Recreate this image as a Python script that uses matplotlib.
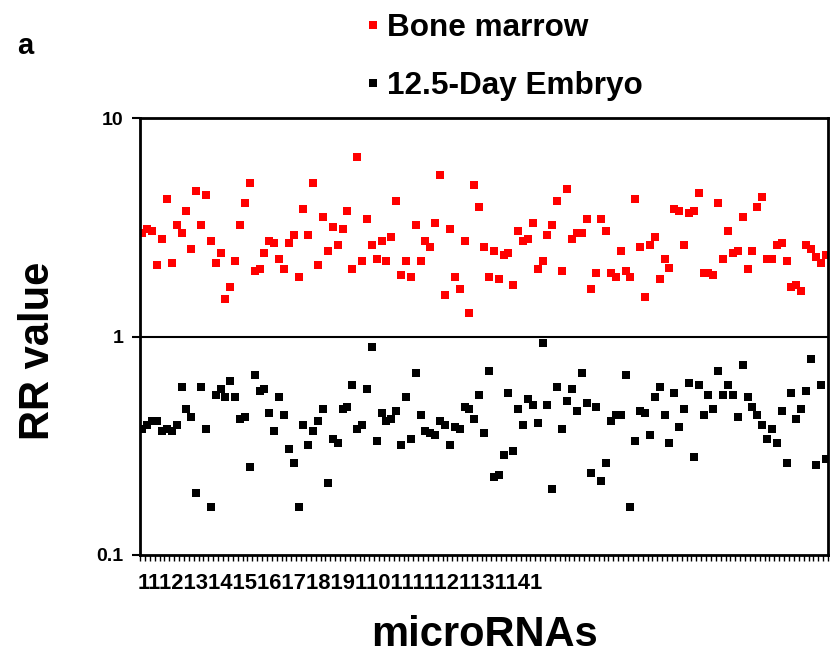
import numpy as np
import matplotlib.pyplot as plt
from matplotlib.ticker import FixedLocator, NullLocator

# RR values for each microRNA (141 probes)
bone_marrow = [
	2.97, 3.10, 3.03, 2.12, 2.79, 4.25, 2.17, 3.23, 2.97, 3.74,
	2.51, 4.62, 3.23, 4.43, 2.73, 2.17, 2.40, 1.48, 1.68, 2.21,
	3.23, 4.07, 5.03, 1.99, 2.03, 2.40, 2.73, 2.67, 2.26, 2.03,
	2.67, 2.91, 1.87, 3.83, 2.91, 5.03, 2.12, 3.52, 2.46, 3.16,
	2.62, 3.10, 3.74, 2.03, 6.62, 2.21, 3.44, 2.62, 2.26, 2.73,
	2.21, 2.85, 4.16, 1.91, 2.21, 1.87, 3.23, 2.21, 2.73, 2.56,
	3.30, 5.47, 1.55, 3.10, 1.87, 1.65, 2.73, 1.28, 4.93, 3.91,
	2.56, 1.87, 2.46, 1.83, 2.36, 2.40, 1.72, 3.03, 2.73, 2.79,
	3.30, 2.03, 2.21, 2.91, 3.23, 4.16, 1.99, 4.72, 2.79, 2.97,
	2.97, 3.44, 1.65, 1.95, 3.44, 3.03, 1.95, 1.87, 2.46, 1.99,
	1.87, 4.25, 2.56, 1.51, 2.62, 2.85, 1.83, 2.26, 2.07, 3.83,
	3.74, 2.62, 3.66, 3.74, 4.53, 1.95, 1.95, 1.91, 4.07, 2.26,
	3.03, 2.40, 2.46, 3.52, 2.03, 2.46, 3.91, 4.34, 2.26, 2.26,
	2.62, 2.67, 2.21, 1.68, 1.72, 1.61, 2.62, 2.51, 2.31, 2.17,
	2.36,
]

embryo = [
	0.376, 0.393, 0.410, 0.410, 0.369, 0.376, 0.369, 0.393, 0.586, 0.465,
	0.427, 0.192, 0.586, 0.376, 0.166, 0.539, 0.574, 0.527, 0.624, 0.527,
	0.418, 0.427, 0.252, 0.665, 0.562, 0.574, 0.446, 0.369, 0.527, 0.436,
	0.305, 0.263, 0.166, 0.393, 0.318, 0.369, 0.410, 0.465, 0.213, 0.339,
	0.325, 0.465, 0.475, 0.599, 0.376, 0.393, 0.574, 0.893, 0.332, 0.446,
	0.410, 0.418, 0.455, 0.318, 0.527, 0.339, 0.679, 0.436, 0.369, 0.361,
	0.353, 0.410, 0.393, 0.318, 0.385, 0.376, 0.475, 0.465, 0.418, 0.539,
	0.361, 0.694, 0.227, 0.232, 0.286, 0.551, 0.299, 0.465, 0.393, 0.516,
	0.485, 0.401, 0.932, 0.485, 0.200, 0.586, 0.376, 0.506, 0.574, 0.455,
	0.679, 0.495, 0.237, 0.475, 0.218, 0.263, 0.410, 0.436, 0.436, 0.665,
	0.166, 0.332, 0.455, 0.446, 0.353, 0.527, 0.586, 0.436, 0.325, 0.551,
	0.385, 0.465, 0.611, 0.280, 0.599, 0.436, 0.539, 0.465, 0.694, 0.539,
	0.599, 0.539, 0.427, 0.739, 0.527, 0.475, 0.436, 0.393, 0.339, 0.376,
	0.325, 0.455, 0.263, 0.551, 0.418, 0.465, 0.562, 0.787, 0.258, 0.599,
	0.274,
]

labels = ['Bone marrow', '12.5-Day Embryo']
tick_labels = [str(i) for i in range(1, len(bone_marrow) + 1, 10)]

plt.rcParams['font.family'] = ['Liberation Sans', 'DejaVu Sans']
plt.rcParams['font.weight'] = 'bold'

x = np.arange(1, len(bone_marrow) + 1)

fig = plt.figure(figsize=(8.37, 6.63), dpi=100)
ax = fig.add_axes([0.1673, 0.1629, 0.822, 0.659])

h1, = ax.plot(x, bone_marrow, 's', color='#ff0000', markersize=5.2, markeredgewidth=0, label=labels[0])
h2, = ax.plot(x, embryo, 's', color='black', markersize=5.2, markeredgewidth=0, label=labels[1])
ax.axhline(1, color='black', lw=1.5, zorder=1)

# Log axis from 0.1 to 10
ax.set_yscale('log')
ax.set_ylim(0.1, 10)
ax.set_xlim(0.5, len(bone_marrow) + 0.5)
ax.yaxis.set_major_locator(FixedLocator([0.1, 1, 10]))
ax.yaxis.set_minor_locator(NullLocator())
ax.set_yticklabels(['0.1', '1', '10'])
ax.tick_params(axis='y', direction='out', length=6, width=1.5, labelsize=14, pad=6)

# Category tick marks between points
ax.xaxis.set_major_locator(FixedLocator(np.arange(0.5, len(bone_marrow) + 1, 1)))
ax.xaxis.set_minor_locator(NullLocator())
ax.tick_params(axis='x', direction='out', length=4.5, width=1, labelbottom=False)

for s in ax.spines.values():
	s.set_linewidth(2)

# Category labels run together under the axis
ax.text(-0.003, -0.066, ''.join(tick_labels), transform=ax.transAxes,
	ha='left', va='center', fontsize=15.8, fontweight='bold')

ax.set_xlabel('microRNAs', fontsize=30, fontweight='bold', va='center')
ax.xaxis.set_label_coords(0.5, -0.183)
ax.set_ylabel('RR value', fontsize=30, fontweight='bold', va='center')
ax.yaxis.set_label_coords(-0.148, 0.467)

fig.legend(handles=[h1, h2], loc='upper left', bbox_to_anchor=(0.423, 0.999),
	frameon=False, fontsize=22.7, handlelength=0.4, handletextpad=0.25,
	labelspacing=0.87, borderaxespad=0)

fig.text(0.02, 1 - 46 / 663, 'a', fontsize=21, fontweight='bold', va='center')

fig.savefig('out.png', dpi=100)
